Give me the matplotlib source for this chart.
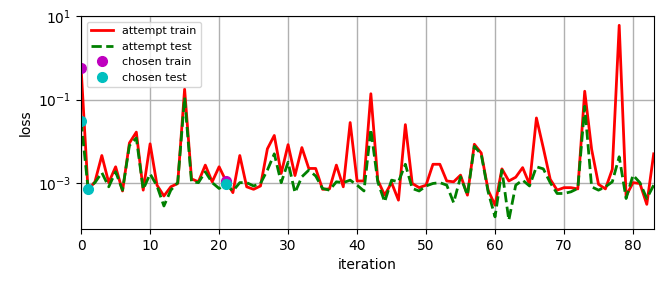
import numpy as np
import matplotlib
matplotlib.use('Agg')
import matplotlib.pyplot as plt
import matplotlib.ticker as mticker

# log10 of the loss per iteration
train_log = [-0.25, -3.17, -2.97, -2.34, -2.99, -2.61, -3.19, -2.04, -1.78, -3.17,
             -2.06, -3.05, -3.31, -3.09, -3.01, -0.75, -2.90, -2.97, -2.57, -2.97,
             -2.61, -2.95, -3.23, -2.34, -3.09, -3.15, -3.07, -2.18, -1.86, -2.77,
             -2.08, -2.82, -2.15, -2.65, -2.65, -3.15, -3.14, -2.57, -3.09, -1.55,
             -2.95, -2.95, -0.86, -2.93, -3.29, -2.99, -3.41, -1.60, -3.01, -3.11,
             -3.05, -2.55, -2.55, -2.95, -2.97, -2.81, -3.29, -2.07, -2.28, -3.17,
             -3.53, -2.66, -2.95, -2.86, -2.63, -3.03, -1.44, -2.16, -2.91, -3.17,
             -3.11, -3.11, -3.14, -0.80, -2.19, -3.03, -3.14, -2.67, 0.78, -3.31,
             -2.99, -3.01, -3.51, -2.30]
test_log = [-1.52, -3.12, -2.99, -2.75, -3.09, -2.73, -3.17, -2.10, -1.92, -3.15,
            -2.78, -3.07, -3.55, -3.17, -2.99, -0.95, -2.97, -2.99, -2.73, -2.99,
            -3.13, -3.03, -3.19, -2.99, -2.99, -3.07, -3.01, -2.69, -2.30, -2.99,
            -2.50, -3.23, -2.85, -2.69, -2.83, -3.13, -3.17, -2.97, -2.99, -2.93,
            -3.05, -3.19, -1.71, -2.97, -3.45, -2.93, -2.97, -2.55, -3.13, -3.19,
            -3.07, -3.01, -2.99, -3.05, -3.47, -2.85, -3.29, -2.12, -2.31, -3.21,
            -3.81, -2.69, -3.89, -3.05, -2.93, -3.07, -2.61, -2.66, -2.99, -3.25,
            -3.25, -3.21, -3.13, -1.16, -3.09, -3.17, -3.09, -2.97, -2.37, -3.37,
            -2.81, -2.99, -3.37, -3.05]

chosen_train_it = [0, 21]
chosen_train_log = [-0.25, -2.95]
chosen_test_it = [0, 1, 21]
chosen_test_log = [-1.52, -3.14, -3.03]

train = 10 ** np.array(train_log)
test = 10 ** np.array(test_log)
it = np.arange(len(train))

fig = plt.figure(figsize=(6.65, 2.88), dpi=100)
ax = fig.add_axes([0.122, 0.205, 0.861, 0.739])

ax.plot(it, train, 'r-', lw=2, label='attempt train')
ax.plot(it, test, 'g--', lw=2, label='attempt test')
ax.plot(chosen_train_it, 10 ** np.array(chosen_train_log), 'mo', ms=7, label='chosen train')
ax.plot(chosen_test_it, 10 ** np.array(chosen_test_log), 'co', ms=7, label='chosen test')

ax.set_yscale('log')
ax.set_xlim(0, 83)
ax.set_ylim(10 ** -4.1, 10)
ax.yaxis.set_major_locator(mticker.FixedLocator([1e-3, 1e-1, 1e1]))
ax.yaxis.set_minor_locator(mticker.NullLocator())
ax.set_xticks([0, 10, 20, 30, 40, 50, 60, 70, 80])
ax.grid(True, color='#b0b0b0', lw=1)
ax.set_axisbelow(True)
ax.set_xlabel('iteration')
ax.set_ylabel('loss')
ax.legend(loc='upper left', fontsize=8)

fig.savefig('out.png', dpi=100)
